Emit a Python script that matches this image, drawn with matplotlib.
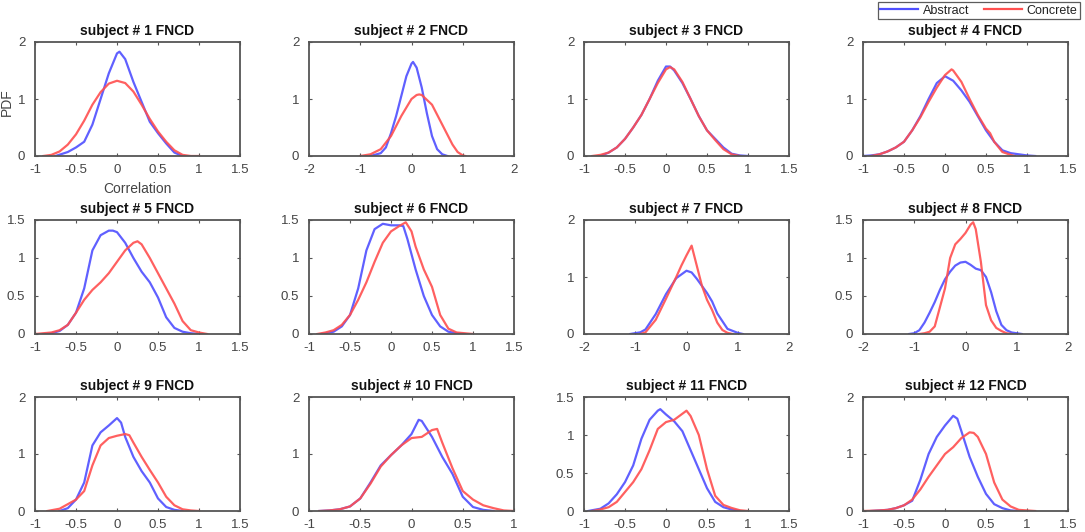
import matplotlib
matplotlib.use("Agg")
import matplotlib.pyplot as plt
from matplotlib.lines import Line2D

plt.rcParams['font.family'] = ['Liberation Sans', 'DejaVu Sans']

# ---------------- data ----------------
subjects = list(range(1, 13))
titles = [f"subject # {s} FNCD" for s in subjects]
series_names = ["Abstract", "Concrete"]

xlims = [(-1, 1.5), (-2, 2), (-1, 1.5), (-1, 1.5),
         (-1, 1.5), (-1, 1.5), (-2, 2), (-2, 2),
         (-1, 1.5), (-1, 1), (-1, 1.5), (-1, 1.5)]
ylims = [2, 2, 2, 2, 1.5, 1.5, 2, 1.5, 2, 2, 1.5, 2]
xticks_a = [-1, -0.5, 0, 0.5, 1, 1.5]
xticks_b = [-2, -1, 0, 1, 2]
xticks_c = [-1, -0.5, 0, 0.5, 1]
yticks_2 = [0, 1, 2]
yticks_15 = [0, 0.5, 1, 1.5]

# subject 1
abs1_x = [-0.75, -0.6, -0.5, -0.4, -0.3, -0.2, -0.1, 0, 0.03, 0.1, 0.2, 0.3, 0.4, 0.5, 0.6, 0.7, 0.8]
abs1_y = [0, 0.07, 0.15, 0.25, 0.55, 1.0, 1.45, 1.8, 1.83, 1.7, 1.3, 0.95, 0.6, 0.4, 0.22, 0.06, 0]
con1_x = [-0.9, -0.8, -0.7, -0.6, -0.5, -0.4, -0.3, -0.2, -0.1, 0, 0.1, 0.2, 0.3, 0.4, 0.5, 0.6, 0.7, 0.8, 0.9, 1.0]
con1_y = [0, 0.02, 0.08, 0.2, 0.38, 0.62, 0.9, 1.12, 1.27, 1.32, 1.28, 1.13, 0.9, 0.65, 0.43, 0.25, 0.1, 0.02, 0.0, 0]
# subject 2
abs2_x = [-0.8, -0.6, -0.5, -0.4, -0.3, -0.2, -0.1, 0, 0.03, 0.1, 0.2, 0.3, 0.4, 0.5, 0.6, 0.7]
abs2_y = [0, 0.05, 0.15, 0.4, 0.7, 1.05, 1.4, 1.62, 1.65, 1.55, 1.2, 0.75, 0.35, 0.12, 0.03, 0]
con2_x = [-1.0, -0.8, -0.6, -0.4, -0.2, 0, 0.1, 0.15, 0.2, 0.4, 0.6, 0.8, 0.9, 1.0, 1.05]
con2_y = [0, 0.03, 0.12, 0.35, 0.7, 1.0, 1.07, 1.08, 1.07, 0.9, 0.55, 0.2, 0.07, 0.01, 0]
# subject 3
abs3_x = [-0.8, -0.7, -0.6, -0.5, -0.4, -0.3, -0.2, -0.1, 0, 0.05, 0.1, 0.2, 0.3, 0.4, 0.5, 0.6, 0.7, 0.8, 0.9, 1.0]
abs3_y = [0, 0.06, 0.15, 0.3, 0.5, 0.72, 1.0, 1.32, 1.57, 1.57, 1.5, 1.28, 1.0, 0.7, 0.45, 0.3, 0.15, 0.04, 0.01, 0]
con3_x = [-0.9, -0.8, -0.7, -0.6, -0.5, -0.4, -0.3, -0.2, -0.1, 0, 0.05, 0.1, 0.2, 0.3, 0.4, 0.5, 0.6, 0.7, 0.8, 0.9]
con3_y = [0, 0.02, 0.06, 0.15, 0.3, 0.5, 0.72, 1.0, 1.28, 1.52, 1.56, 1.52, 1.3, 1.0, 0.7, 0.45, 0.28, 0.12, 0.03, 0]
# subject 4
abs4_x = [-1.0, -0.9, -0.8, -0.7, -0.6, -0.5, -0.4, -0.3, -0.2, -0.1, 0, 0.1, 0.2, 0.3, 0.4, 0.5, 0.6, 0.7, 0.8, 0.9, 1.0, 1.1]
abs4_y = [0, 0.01, 0.03, 0.08, 0.15, 0.25, 0.45, 0.7, 1.0, 1.28, 1.4, 1.32, 1.15, 0.95, 0.7, 0.45, 0.25, 0.1, 0.05, 0.03, 0.01, 0]
con4_x = [-0.9, -0.8, -0.7, -0.6, -0.5, -0.4, -0.3, -0.2, -0.1, 0, 0.08, 0.1, 0.2, 0.3, 0.4, 0.5, 0.55, 0.6, 0.7, 0.8, 0.85]
con4_y = [0, 0.03, 0.08, 0.15, 0.25, 0.45, 0.68, 0.95, 1.2, 1.42, 1.52, 1.5, 1.3, 1.0, 0.72, 0.48, 0.4, 0.25, 0.07, 0.02, 0]
# subject 5
abs5_x = [-0.9, -0.8, -0.7, -0.6, -0.5, -0.4, -0.3, -0.2, -0.1, -0.05, 0, 0.1, 0.2, 0.3, 0.4, 0.5, 0.6, 0.7, 0.8, 0.9, 1.0]
abs5_y = [0, 0.01, 0.04, 0.12, 0.28, 0.6, 1.1, 1.3, 1.36, 1.36, 1.34, 1.2, 1.0, 0.82, 0.68, 0.48, 0.22, 0.08, 0.03, 0.01, 0]
con5_x = [-1.0, -0.9, -0.8, -0.7, -0.6, -0.5, -0.4, -0.3, -0.2, -0.1, 0, 0.1, 0.2, 0.25, 0.3, 0.4, 0.5, 0.6, 0.7, 0.8, 0.9, 1.0, 1.1]
con5_y = [0, 0.01, 0.02, 0.05, 0.12, 0.28, 0.45, 0.58, 0.68, 0.8, 0.95, 1.1, 1.2, 1.22, 1.18, 1.0, 0.8, 0.6, 0.4, 0.17, 0.05, 0.02, 0]
# subject 6
abs6_x = [-0.85, -0.7, -0.6, -0.5, -0.4, -0.3, -0.2, -0.1, 0, 0.1, 0.15, 0.2, 0.3, 0.4, 0.5, 0.6, 0.7, 0.8, 0.9]
abs6_y = [0, 0.03, 0.1, 0.25, 0.6, 1.1, 1.38, 1.45, 1.43, 1.43, 1.42, 1.25, 0.85, 0.5, 0.25, 0.1, 0.03, 0.01, 0]
con6_x = [-0.9, -0.8, -0.7, -0.6, -0.5, -0.4, -0.3, -0.2, -0.1, 0, 0.1, 0.18, 0.25, 0.3, 0.4, 0.5, 0.6, 0.7, 0.8, 0.9, 1.0]
con6_y = [0, 0.02, 0.05, 0.12, 0.25, 0.45, 0.68, 0.95, 1.2, 1.35, 1.42, 1.47, 1.35, 1.15, 0.85, 0.62, 0.25, 0.07, 0.02, 0.01, 0]
# subject 7
abs7_x = [-1.1, -0.9, -0.8, -0.6, -0.4, -0.2, 0, 0.1, 0.2, 0.4, 0.5, 0.6, 0.8, 1.0, 1.1]
abs7_y = [0, 0.03, 0.08, 0.35, 0.7, 0.98, 1.11, 1.08, 0.97, 0.72, 0.57, 0.36, 0.09, 0.02, 0]
con7_x = [-0.9, -0.8, -0.6, -0.4, -0.2, -0.1, 0, 0.1, 0.2, 0.3, 0.4, 0.5, 0.6, 0.7, 0.8, 0.9]
con7_y = [0, 0.03, 0.25, 0.62, 1.0, 1.2, 1.38, 1.55, 1.2, 0.85, 0.6, 0.42, 0.2, 0.07, 0.02, 0]
# subject 8
abs8_x = [-1.1, -1.0, -0.9, -0.8, -0.7, -0.6, -0.5, -0.4, -0.3, -0.2, -0.1, 0, 0.1, 0.2, 0.3, 0.4, 0.5, 0.6, 0.7, 0.8, 0.9, 1.0, 1.1]
abs8_y = [0, 0.01, 0.05, 0.15, 0.28, 0.42, 0.58, 0.72, 0.82, 0.9, 0.94, 0.95, 0.91, 0.86, 0.84, 0.75, 0.55, 0.3, 0.12, 0.05, 0.02, 0.01, 0]
con8_x = [-0.9, -0.8, -0.7, -0.6, -0.5, -0.4, -0.35, -0.3, -0.2, -0.1, 0, 0.1, 0.15, 0.2, 0.3, 0.4, 0.5, 0.6, 0.7, 0.8, 0.9]
con8_y = [0, 0.01, 0.03, 0.1, 0.35, 0.6, 0.8, 1.0, 1.18, 1.25, 1.33, 1.44, 1.47, 1.38, 0.95, 0.38, 0.18, 0.08, 0.04, 0.01, 0]
# subject 9
abs9_x = [-0.7, -0.6, -0.5, -0.4, -0.3, -0.2, -0.1, 0, 0.05, 0.1, 0.2, 0.3, 0.4, 0.5, 0.6, 0.7, 0.8]
abs9_y = [0, 0.05, 0.2, 0.5, 1.15, 1.38, 1.5, 1.63, 1.55, 1.3, 0.95, 0.7, 0.5, 0.22, 0.07, 0.02, 0]
con9_x = [-0.85, -0.7, -0.6, -0.5, -0.4, -0.3, -0.2, -0.1, 0, 0.1, 0.15, 0.2, 0.3, 0.4, 0.5, 0.6, 0.7, 0.8, 0.9, 1.0]
con9_y = [0, 0.04, 0.12, 0.2, 0.35, 0.8, 1.15, 1.28, 1.32, 1.35, 1.33, 1.2, 0.95, 0.72, 0.5, 0.25, 0.1, 0.03, 0.01, 0]
# subject 10
abs10_x = [-0.9, -0.8, -0.7, -0.6, -0.5, -0.4, -0.3, -0.2, -0.1, 0, 0.07, 0.1, 0.2, 0.3, 0.4, 0.5, 0.6, 0.7, 0.8]
abs10_y = [0, 0.01, 0.03, 0.08, 0.22, 0.5, 0.8, 0.98, 1.15, 1.35, 1.6, 1.58, 1.3, 0.95, 0.65, 0.25, 0.07, 0.02, 0]
con10_x = [-0.9, -0.8, -0.7, -0.6, -0.5, -0.4, -0.3, -0.2, -0.1, 0, 0.1, 0.2, 0.25, 0.3, 0.4, 0.5, 0.6, 0.7, 0.8, 0.9, 1.0]
con10_y = [0, 0.01, 0.03, 0.08, 0.22, 0.48, 0.78, 0.98, 1.15, 1.28, 1.3, 1.42, 1.44, 1.2, 0.75, 0.35, 0.2, 0.1, 0.05, 0.01, 0]
# subject 11
abs11_x = [-0.95, -0.8, -0.7, -0.6, -0.5, -0.4, -0.3, -0.2, -0.1, -0.07, 0, 0.1, 0.2, 0.3, 0.4, 0.5, 0.6, 0.7, 0.8, 0.9]
abs11_y = [0, 0.03, 0.1, 0.22, 0.38, 0.6, 0.95, 1.2, 1.32, 1.34, 1.27, 1.18, 1.05, 0.8, 0.55, 0.3, 0.12, 0.05, 0.02, 0]
con11_x = [-0.9, -0.8, -0.7, -0.6, -0.5, -0.4, -0.3, -0.2, -0.1, 0, 0.1, 0.2, 0.25, 0.3, 0.4, 0.5, 0.6, 0.7, 0.8, 0.9, 1.0]
con11_y = [0, 0.02, 0.05, 0.12, 0.25, 0.38, 0.55, 0.8, 1.08, 1.17, 1.2, 1.28, 1.32, 1.25, 1.0, 0.55, 0.2, 0.08, 0.04, 0.01, 0]
# subject 12
abs12_x = [-0.9, -0.7, -0.6, -0.5, -0.4, -0.3, -0.2, -0.1, 0, 0.1, 0.15, 0.2, 0.3, 0.4, 0.5, 0.6, 0.7, 0.8, 0.9]
abs12_y = [0, 0.02, 0.05, 0.1, 0.18, 0.55, 1.0, 1.3, 1.5, 1.67, 1.62, 1.4, 0.95, 0.6, 0.3, 0.12, 0.05, 0.01, 0]
con12_x = [-1.0, -0.8, -0.7, -0.6, -0.5, -0.4, -0.3, -0.2, -0.1, 0, 0.1, 0.2, 0.3, 0.35, 0.4, 0.5, 0.6, 0.7, 0.8, 0.9, 1.0, 1.1]
con12_y = [0, 0.01, 0.02, 0.05, 0.1, 0.2, 0.38, 0.6, 0.8, 1.0, 1.12, 1.28, 1.38, 1.37, 1.3, 1.0, 0.5, 0.2, 0.08, 0.02, 0.01, 0]

abstract_x = [abs1_x, abs2_x, abs3_x, abs4_x, abs5_x, abs6_x, abs7_x, abs8_x, abs9_x, abs10_x, abs11_x, abs12_x]
abstract_y = [abs1_y, abs2_y, abs3_y, abs4_y, abs5_y, abs6_y, abs7_y, abs8_y, abs9_y, abs10_y, abs11_y, abs12_y]
concrete_x = [con1_x, con2_x, con3_x, con4_x, con5_x, con6_x, con7_x, con8_x, con9_x, con10_x, con11_x, con12_x]
concrete_y = [con1_y, con2_y, con3_y, con4_y, con5_y, con6_y, con7_y, con8_y, con9_y, con10_y, con11_y, con12_y]

# ---------------- layout / style ----------------
W, H = 1085, 532
fig = plt.figure(figsize=(W / 100, H / 100), dpi=100)
fig.patch.set_facecolor('white')

col_left = [35, 309, 584, 863]
row_top = [42, 220, 397]
ax_w, ax_h = 205, 114

blue = '#4f4fff'
red = '#ff4f4f'
edge = '#555555'
txt = '#444444'

for i in range(12):
    r, c = divmod(i, 4)
    left = col_left[c]
    top = row_top[r]
    ax = fig.add_axes([left / W, (H - top - ax_h) / H, ax_w / W, ax_h / H])
    ax.plot(abstract_x[i], abstract_y[i], color=blue, lw=1.6, alpha=0.9,
            solid_joinstyle='round')
    ax.plot(concrete_x[i], concrete_y[i], color=red, lw=1.6, alpha=0.9,
            solid_joinstyle='round')
    ax.set_xlim(*xlims[i])
    ax.set_ylim(0, ylims[i])
    lo, hi = xlims[i]
    if lo == -2:
        xt = xticks_b
    elif hi == 1:
        xt = xticks_c
    else:
        xt = xticks_a
    ax.set_xticks(xt)
    ax.set_xticklabels([f"{v:g}" for v in xt])
    yt = yticks_2 if ylims[i] == 2 else yticks_15
    ax.set_yticks(yt)
    ax.set_yticklabels([f"{v:g}" for v in yt])
    ax.tick_params(direction='in', top=True, right=True, length=2.5, width=0.8,
                   colors=edge, labelcolor=txt, labelsize=9.5)
    ax.tick_params(axis='x', pad=6)
    ax.tick_params(axis='y', pad=7)
    for s in ax.spines.values():
        s.set_color(edge)
        s.set_linewidth(1.3)
    ax.set_title(titles[i], fontsize=10, fontweight='bold', color='#111111', pad=5)
    if i == 0:
        ax.set_ylabel('PDF', fontsize=10, color=txt)
        ax.yaxis.set_label_coords(-21 / ax_w, 0.47)
        ax.set_xlabel('Correlation', fontsize=10, color=txt, labelpad=4)

handles = [Line2D([0], [0], color=blue, lw=1.6), Line2D([0], [0], color=red, lw=1.6)]
leg = fig.legend(handles, series_names, loc='upper right', bbox_to_anchor=(1080 / W, 1 - 2 / H),
                 ncol=2, fontsize=9, frameon=True, fancybox=False, edgecolor='#333333',
                 handlelength=3.0, handletextpad=0.4, columnspacing=1.2, borderpad=0.2,
                 borderaxespad=0)
leg.get_frame().set_linewidth(0.9)
for t in leg.get_texts():
    t.set_color('#222222')

fig.savefig('out.png', dpi=100)
